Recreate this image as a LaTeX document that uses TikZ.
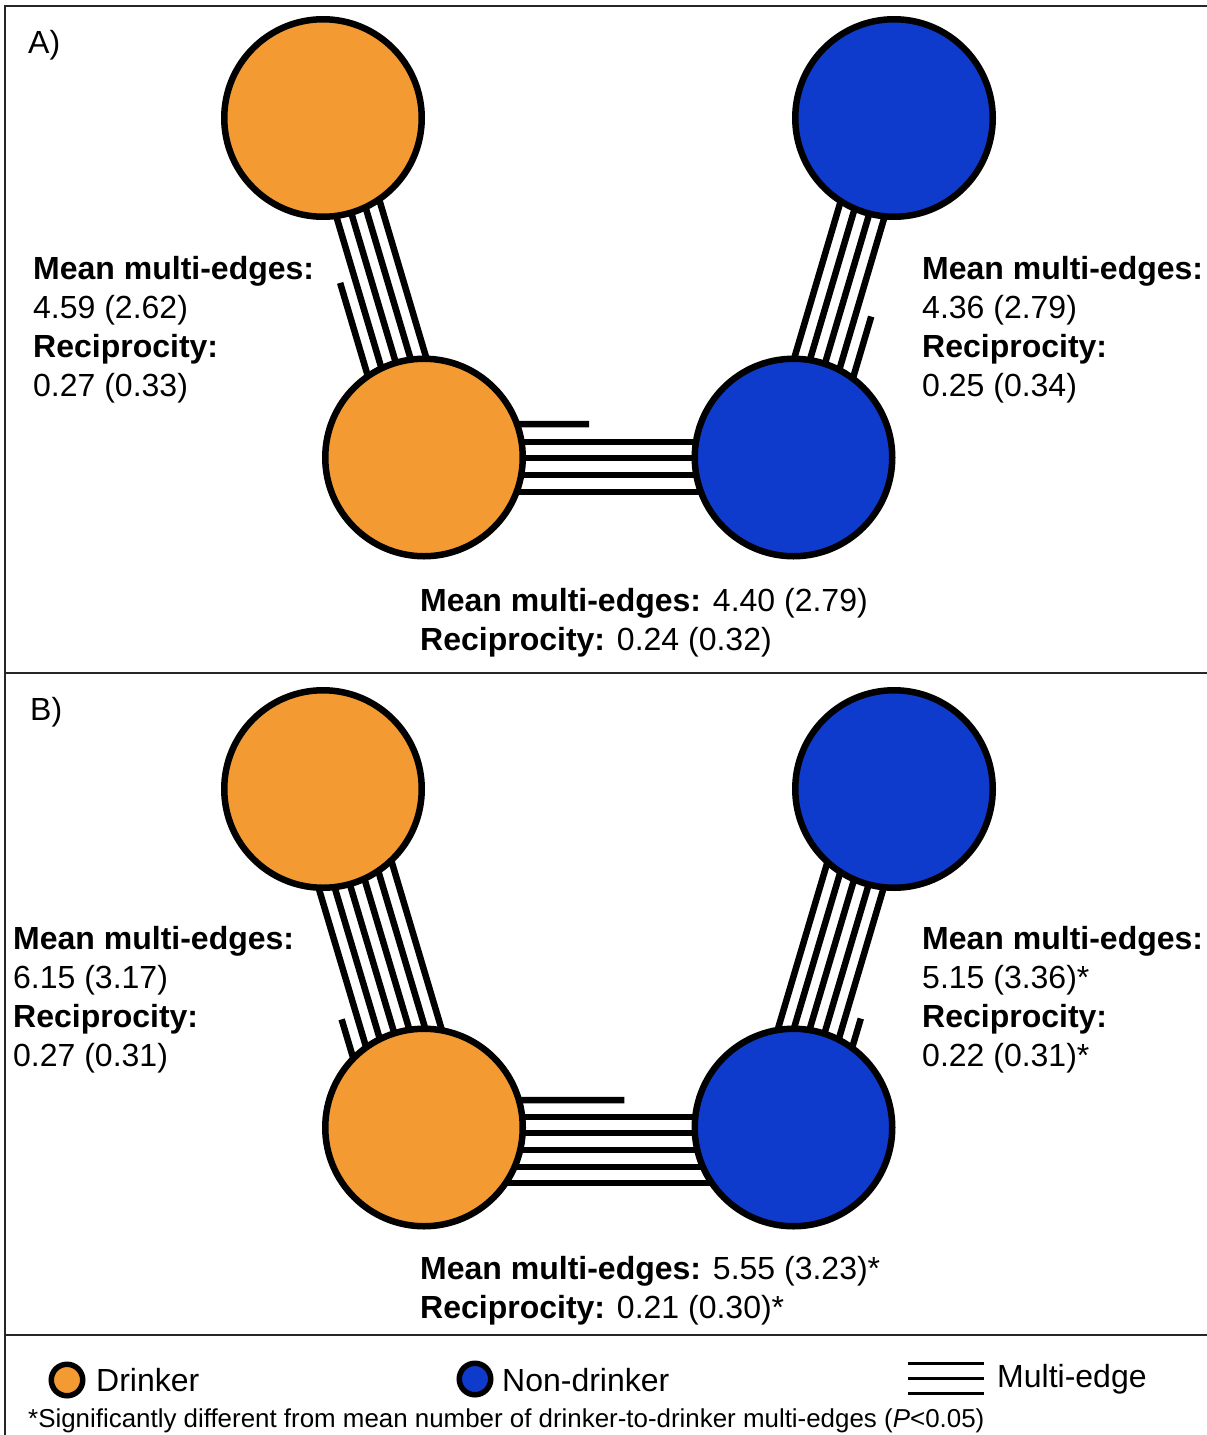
\documentclass[tikz,border=0pt]{standalone}
\usepackage{fontspec}
\setmainfont{Liberation Sans}
\usetikzlibrary{calc}
\definecolor{drk}{RGB}{243,154,51}
\definecolor{ndrk}{RGB}{15,59,204}
\pgfdeclarelayer{bglayer}
\pgfdeclarelayer{edgelayer}
\pgfsetlayers{bglayer,edgelayer,main}
\begin{document}
\begin{tikzpicture}[x=1pt,y=-1pt,
  nd/.style={circle,draw=black,line width=6.5pt,minimum size=197.5pt,inner sep=0pt},
  dr/.style={nd,fill=drk},
  nn/.style={nd,fill=ndrk},
  leg/.style={circle,draw=black,line width=5.5pt,minimum size=31.5pt,inner sep=0pt},
  edge/.style={line width=6.5pt,line cap=butt},
  legedge/.style={line width=3pt,line cap=butt},
  frame/.style={line width=2pt,draw=black!85},
  lbl/.style={anchor=base west,align=left,inner sep=0pt,font=\fontsize{32}{38.7}\selectfont},
  foot/.style={anchor=base west,inner sep=0pt,font=\fontsize{25.9}{30}\selectfont}]
\useasboundingbox (0,0) rectangle (1207,1435);
\begin{pgfonlayer}{bglayer}
\fill[white] (0,0) rectangle (1207,1435);
\end{pgfonlayer}
% frame
\draw[frame] (1207,6) -- (5,6) -- (5,1435);
\draw[frame] (5,673) -- (1207,673);
\draw[frame] (5,1335) -- (1207,1335);
% panel A nodes
\node[dr] (aot) at (323,118) {};
\node[nn] (abt) at (894,118) {};
\node[dr] (aob) at (424,457.5) {};
\node[nn] (abb) at (793.5,457.5) {};
% panel B nodes
\node[dr] (bot) at (323,789) {};
\node[nn] (bbt) at (894,789) {};
\node[dr] (bob) at (424,1127.5) {};
\node[nn] (bbb) at (793.5,1127.5) {};
\begin{pgfonlayer}{edgelayer}
% A: drinker-drinker
\foreach \o in {-15.3,0,15.3,30.6}
  \draw[edge] ($(aot.center)!\o pt!90:(aob.center)$) -- ($(aob.center)!\o pt!-90:(aot.center)$);
\coordinate (sA1) at ($(aot.center)!0.46!(aob.center)$);
\draw[edge] ($(sA1)!-30.6pt!90:(aob.center)$) -- ($(aob.center)!-30.6pt!-90:(aot.center)$);
% A: nondrinker-nondrinker
\foreach \o in {-27.5,-12,3.5,19}
  \draw[edge] ($(abt.center)!\o pt!90:(abb.center)$) -- ($(abb.center)!\o pt!-90:(abt.center)$);
\coordinate (sA2) at ($(abt.center)!0.556!(abb.center)$);
\draw[edge] ($(sA2)!34.5pt!90:(abb.center)$) -- ($(abb.center)!34.5pt!-90:(abt.center)$);
% A: drinker-nondrinker
\foreach \o in {15.5,-0.5,-17.5,-34.5}
  \draw[edge] ($(aob.center)!\o pt!90:(abb.center)$) -- ($(abb.center)!\o pt!-90:(aob.center)$);
\coordinate (sA3) at ($(aob.center)!0.447!(abb.center)$);
\draw[edge] ($(aob.center)!33.5pt!90:(abb.center)$) -- ($(sA3)!33.5pt!-90:(aob.center)$);
% B: drinker-drinker
\foreach \o in {-32.5,-17,-1.5,14,29.5,45}
  \draw[edge] ($(bot.center)!\o pt!90:(bob.center)$) -- ($(bob.center)!\o pt!-90:(bot.center)$);
\coordinate (sB1) at ($(bot.center)!0.64!(bob.center)$);
\draw[edge] ($(sB1)!-48pt!90:(bob.center)$) -- ($(bob.center)!-48pt!-90:(bot.center)$);
% B: nondrinker-nondrinker
\foreach \o in {-43,-27.8,-12.5,2.9,18.2}
  \draw[edge] ($(bbt.center)!\o pt!90:(bbb.center)$) -- ($(bbb.center)!\o pt!-90:(bbt.center)$);
\coordinate (sB2) at ($(bbt.center)!0.65!(bbb.center)$);
\draw[edge] ($(sB2)!33.5pt!90:(bbb.center)$) -- ($(bbb.center)!33.5pt!-90:(bbt.center)$);
% B: drinker-nondrinker
\foreach \o in {10.5,-5.5,-22.5,-39.5,-55.5}
  \draw[edge] ($(bob.center)!\o pt!90:(bbb.center)$) -- ($(bbb.center)!\o pt!-90:(bob.center)$);
\coordinate (sB3) at ($(bob.center)!0.542!(bbb.center)$);
\draw[edge] ($(bob.center)!27.5pt!90:(bbb.center)$) -- ($(sB3)!27.5pt!-90:(bob.center)$);
\end{pgfonlayer}
% panel labels
\node[lbl] (la) at (28,53.5) {A)};
\node[lbl] (lb) at (30,720) {B)};
% panel A texts (anchored at the baseline of the last line)
\node[lbl] (ta1) at (33,396) {\textbf{Mean multi-edges:}\\4.59 (2.62)\\\textbf{Reciprocity:}\\0.27 (0.33)};
\node[lbl] (ta2) at (922,396) {\textbf{Mean multi-edges:}\\4.36 (2.79)\\\textbf{Reciprocity:}\\0.25 (0.34)};
\node[lbl] (ta3) at (420,650.5) {\textbf{Mean multi-edges:} 4.40 (2.79)\\\textbf{Reciprocity:} 0.24 (0.32)};
% panel B texts
\node[lbl] (tb1) at (13,1066) {\textbf{Mean multi-edges:}\\6.15 (3.17)\\\textbf{Reciprocity:}\\0.27 (0.31)};
\node[lbl] (tb2) at (922,1066) {\textbf{Mean multi-edges:}\\5.15 (3.36)*\\\textbf{Reciprocity:}\\0.22 (0.31)*};
\node[lbl] (tb3) at (420,1318.5) {\textbf{Mean multi-edges:} 5.55 (3.23)*\\\textbf{Reciprocity:} 0.21 (0.30)*};
% legend
\node[leg,fill=drk] (l1) at (67,1380) {};
\node[lbl] (l1t) at (96,1391.5) {Drinker};
\node[leg,fill=ndrk] (l2) at (475,1379) {};
\node[lbl] (l2t) at (502,1391.5) {Non-drinker};
\foreach \yy [count=\i] in {1363,1378,1393} {
  \coordinate (me\i a) at (908,\yy);
  \coordinate (me\i b) at (984,\yy);
  \draw[legedge] (me\i a) -- (me\i b);
}
\node[lbl] (l3t) at (997,1387.5) {Multi-edge};
\node[foot] (fn) at (28,1427) {*Significantly different from mean number of drinker-to-drinker multi-edges (\textit{P}<0.05)};
\end{tikzpicture}
\end{document}
